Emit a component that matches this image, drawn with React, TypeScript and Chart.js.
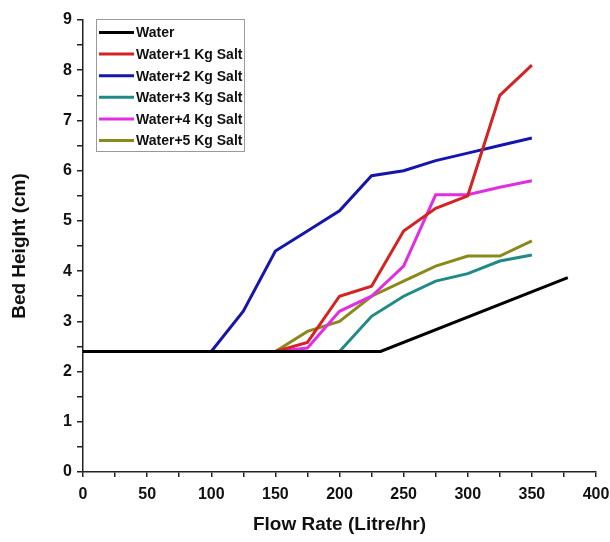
import React, { useEffect, useRef } from "react";
import { Chart, registerables } from "chart.js";

Chart.register(...registerables);

const seriesLabels = [
  "Water",
  "Water+1 Kg Salt",
  "Water+2 Kg Salt",
  "Water+3 Kg Salt",
  "Water+4 Kg Salt",
  "Water+5 Kg Salt",
];
const seriesColors = ["#000000", "#d42323", "#1616ad", "#1f8a86", "#e02ee0", "#8a8a1c"];

const waterX = [0, 232, 378];
const waterY = [2.4, 2.4, 3.87];
const salt1X = [150, 175, 200, 225, 250, 275, 300, 325, 350];
const salt1Y = [2.4, 2.58, 3.5, 3.7, 4.8, 5.25, 5.5, 7.5, 8.1];
const salt2X = [100, 125, 150, 175, 200, 225, 250, 275, 300, 325, 350];
const salt2Y = [2.4, 3.2, 4.4, 4.8, 5.2, 5.9, 6.0, 6.2, 6.35, 6.5, 6.65];
const salt3X = [200, 225, 250, 275, 300, 325, 350];
const salt3Y = [2.4, 3.1, 3.5, 3.8, 3.95, 4.2, 4.32];
const salt4X = [150, 175, 200, 225, 250, 275, 300, 325, 350];
const salt4Y = [2.4, 2.47, 3.2, 3.5, 4.1, 5.52, 5.52, 5.67, 5.8];
const salt5X = [150, 175, 200, 225, 250, 275, 300, 325, 350];
const salt5Y = [2.4, 2.8, 3.0, 3.5, 3.8, 4.1, 4.3, 4.3, 4.6];

const xTickStep = 25;
const xLabelStep = 50;
const yTickStep = 0.5;
const xMin = 0, xMax = 400, yMin = 0, yMax = 9;

const FONT = "'Liberation Sans', Arial, sans-serif";

const pts = (xs: number[], ys: number[]) => xs.map((x, i) => ({ x, y: ys[i] }));

const boxLegend = {
  id: "boxLegend",
  afterDatasetsDraw(chart: any) {
    const ctx = chart.ctx;
    const left = 96, top = 19, w = 148, h = 132;
    ctx.save();
    ctx.fillStyle = "#ffffff";
    ctx.fillRect(left, top, w, h);
    ctx.strokeStyle = "#9a9a9a";
    ctx.lineWidth = 1;
    ctx.strokeRect(left + 0.5, top + 0.5, w, h);
    ctx.font = `bold 14px ${FONT}`;
    ctx.textBaseline = "middle";
    ctx.textAlign = "left";
    chart.data.datasets.forEach((ds: any, i: number) => {
      const y = top + 13.5 + i * 21.6;
      ctx.strokeStyle = ds.borderColor;
      ctx.lineWidth = 3;
      ctx.beginPath();
      ctx.moveTo(99, y);
      ctx.lineTo(134, y);
      ctx.stroke();
      ctx.fillStyle = "#111111";
      ctx.fillText(ds.label, 136, y + 1);
    });
    ctx.restore();
  },
};

export default function App() {
  const ref = useRef<HTMLCanvasElement>(null);
  useEffect(() => {
    document.body.style.margin = "0";
    const xs = [waterX, salt1X, salt2X, salt3X, salt4X, salt5X];
    const ys = [waterY, salt1Y, salt2Y, salt3Y, salt4Y, salt5Y];
    const chart = new Chart(ref.current!, {
      type: "line",
      data: {
        datasets: seriesLabels.map((label, i) => ({
          label,
          data: pts(xs[i], ys[i]),
          borderColor: seriesColors[i],
          backgroundColor: seriesColors[i],
          borderWidth: 3,
          pointRadius: 0,
          tension: 0,
          fill: false,
        })),
      },
      options: {
        responsive: false,
        animation: false,
        layout: { padding: { top: 20, right: 14, left: 0, bottom: 0 } },
        plugins: { legend: { display: false }, tooltip: { enabled: false } },
        scales: {
          x: {
            type: "linear",
            min: xMin,
            max: xMax,
            afterFit(scale: any) {
              scale.height = 70;
              scale.paddingLeft = 0;
              scale.paddingRight = 0;
            },
            border: { display: true, color: "#222", width: 1.5 },
            grid: { drawOnChartArea: false, drawTicks: true, tickLength: 5, color: "#222", lineWidth: 1.5 },
            ticks: {
              stepSize: xTickStep,
              autoSkip: false,
              maxRotation: 0,
              padding: 8,
              color: "#111",
              font: { family: FONT, size: 16, weight: "bold" },
              callback: (v: any) => (Number(v) % xLabelStep === 0 ? String(v) : ""),
            },
            title: {
              display: true,
              text: "Flow Rate (Litre/hr)",
              color: "#111",
              font: { family: FONT, size: 19, weight: "bold" },
              padding: { top: 0, bottom: 5.6 },
            },
          },
          y: {
            type: "linear",
            min: yMin,
            max: yMax,
            afterFit(scale: any) {
              scale.width = 83;
              scale.paddingTop = 0;
              scale.paddingBottom = 0;
            },
            border: { display: true, color: "#222", width: 1.5 },
            grid: { drawOnChartArea: false, drawTicks: true, tickLength: 6, color: "#222", lineWidth: 1.5 },
            ticks: {
              stepSize: yTickStep,
              autoSkip: false,
              padding: 5,
              color: "#111",
              font: { family: FONT, size: 16, weight: "bold" },
              callback: (v: any) => (Number(v) % 1 === 0 ? String(v) : ""),
            },
            title: {
              display: true,
              text: "Bed Height (cm)",
              color: "#111",
              font: { family: FONT, size: 19, weight: "bold" },
              padding: { top: 8.6, bottom: 0 },
            },
          },
        },
      },
      plugins: [boxLegend],
    });
    return () => chart.destroy();
  }, []);
  return (
    <div style={{ width: 610, height: 542, background: "#fff" }}>
      <canvas ref={ref} width={610} height={542} />
    </div>
  );
}
